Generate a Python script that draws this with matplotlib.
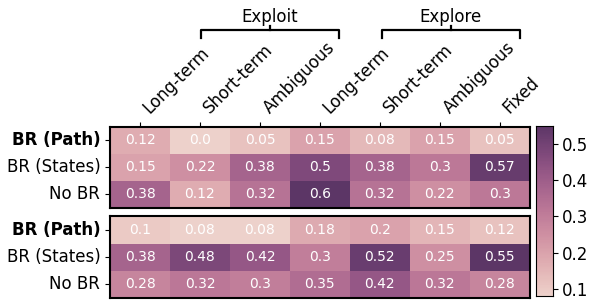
import numpy as np
import matplotlib
matplotlib.use("Agg")
import matplotlib.pyplot as plt
import seaborn as sns

# column / row labels
col_labels = ["Long-term", "Short-term", "Ambiguous", "Long-term", "Short-term", "Ambiguous", "Fixed"]
row_labels = ["BR (Path)", "BR (States)", "No BR"]

# top block
top_path = [0.12, 0.0, 0.05, 0.15, 0.08, 0.15, 0.05]
top_states = [0.15, 0.22, 0.38, 0.5, 0.38, 0.3, 0.57]
top_nobr = [0.38, 0.12, 0.32, 0.6, 0.32, 0.22, 0.3]

# bottom block
bot_path = [0.1, 0.08, 0.08, 0.18, 0.2, 0.15, 0.12]
bot_states = [0.38, 0.48, 0.42, 0.3, 0.52, 0.25, 0.55]
bot_nobr = [0.28, 0.32, 0.3, 0.35, 0.42, 0.32, 0.28]

top = np.array([top_path, top_states, top_nobr])
bot = np.array([bot_path, bot_states, bot_nobr])

cmap = sns.cubehelix_palette(as_cmap=True, dark=0.28, light=0.85)

fig = plt.figure(figsize=(5.98, 3.08), dpi=100)
ax1 = fig.add_axes([0.184, 0.325, 0.702, 0.263])
ax2 = fig.add_axes([0.184, 0.032, 0.702, 0.266])
cax = fig.add_axes([0.896, 0.039, 0.028, 0.552])

for ax, data, cb in [(ax1, top, False), (ax2, bot, True)]:
    labels = np.array([[str(v) for v in row] for row in data])
    sns.heatmap(data, ax=ax, annot=labels, fmt="", cmap=cmap, cbar=cb,
                cbar_ax=cax if cb else None,
                annot_kws={"size": 10, "color": "white"})
    for s in ax.spines.values():
        s.set_visible(True)
        s.set_linewidth(1.5)
    ax.set_yticks(np.arange(3) + 0.5)
    ax.set_yticklabels(row_labels, rotation=0, fontsize=12)
    ax.get_yticklabels()[0].set_fontweight("bold")

ax1.xaxis.tick_top()
ax1.set_xticks(np.arange(7) + 0.5)
ax1.set_xticklabels(col_labels, rotation=45, ha="left", fontsize=12)
ax2.set_xticks([])

cax.tick_params(labelsize=12)
cax.set_yticks([0.1, 0.2, 0.3, 0.4, 0.5])
for s in cax.spines.values():
    s.set_visible(True)

# group brackets above the column labels
trans = ax1.get_xaxis_transform()
for name, x0, x1 in [("Exploit", 1.52, 3.82), ("Explore", 4.53, 6.83)]:
    ax1.plot([x0, x0, x1, x1], [2.10, 2.20, 2.20, 2.10], color="black", lw=1.6,
             transform=trans, clip_on=False)
    xm = (x0 + x1) / 2
    ax1.plot([xm, xm], [2.20, 2.24], color="black", lw=1.6, transform=trans, clip_on=False)
    ax1.text(xm, 2.25, name, ha="center", va="bottom", fontsize=12, transform=trans)

fig.savefig("out.png", dpi=100)
